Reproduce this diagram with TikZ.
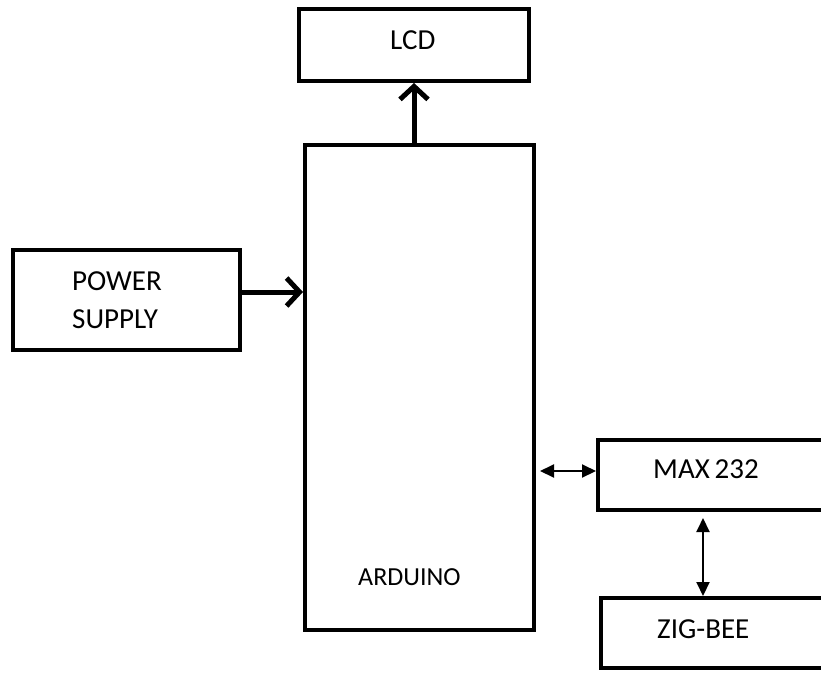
\documentclass[tikz,border=0pt]{standalone}
\usepackage{fontspec}
\setmainfont{Carlito}
\usetikzlibrary{arrows.meta}

\tikzset{
  block/.style={draw, rectangle, line width=4pt, inner sep=0pt},
  lbl/.style={inner sep=0pt, font=\fontsize{29}{38}\selectfont},
  bigarrow/.style={line width=5pt, -{Straight Barb[length=13pt,width=28pt]}},
  smallarrow/.style={line width=2pt, {Triangle[length=14pt,width=13pt]}-{Triangle[length=14pt,width=13pt]}}
}

\begin{document}
\begin{tikzpicture}[x=1pt, y=-1pt]

  \useasboundingbox (0,0) rectangle (821,672);
  \clip (0,0) rectangle (821,672);

  %% ── Blocks ────────────────────
  \node[block, minimum width=230pt, minimum height=72pt]  (lcd)     at (414,45)    {};
  \node[block, minimum width=229pt, minimum height=485pt] (arduino) at (419.5,387.5) {};
  \node[block, minimum width=227pt, minimum height=100pt] (power)   at (126.5,300) {};
  \node[block, minimum width=247pt, minimum height=70pt]  (max)     at (721.5,475) {};
  \node[block, minimum width=244pt, minimum height=70pt]  (zig)     at (723,633)   {};

  % labels
  \node[lbl, anchor=base west] (lcdtxt) at (390,49) {LCD};
  \node[lbl, anchor=north west, align=left] (powertxt) at (72,271) {POWER\\SUPPLY};
  \node[lbl, anchor=base west, font=\fontsize{26}{30}\selectfont] (ardtxt) at (358,585) {ARDUINO};
  \node[lbl, anchor=base west] (maxtxt) at (653,478) {MAX\,232};
  \node[lbl, anchor=base west] (zigtxt) at (657,638) {ZIG-BEE};

  %% ── Connections ───────────────
  \draw[bigarrow] (lcd.south |- arduino.north) -- (lcd.south);
  \draw[bigarrow] ([yshift=8pt]power.east) -- ([yshift=8pt]power.east -| arduino.west);
  \draw[smallarrow, shorten <=4pt] ([yshift=4pt]max.west -| arduino.east) -- ([yshift=4pt]max.west);
  \draw[smallarrow, shorten <=6pt] ([xshift=-20pt]zig.north |- max.south) -- ([xshift=-20pt]zig.north);

\end{tikzpicture}
\end{document}
